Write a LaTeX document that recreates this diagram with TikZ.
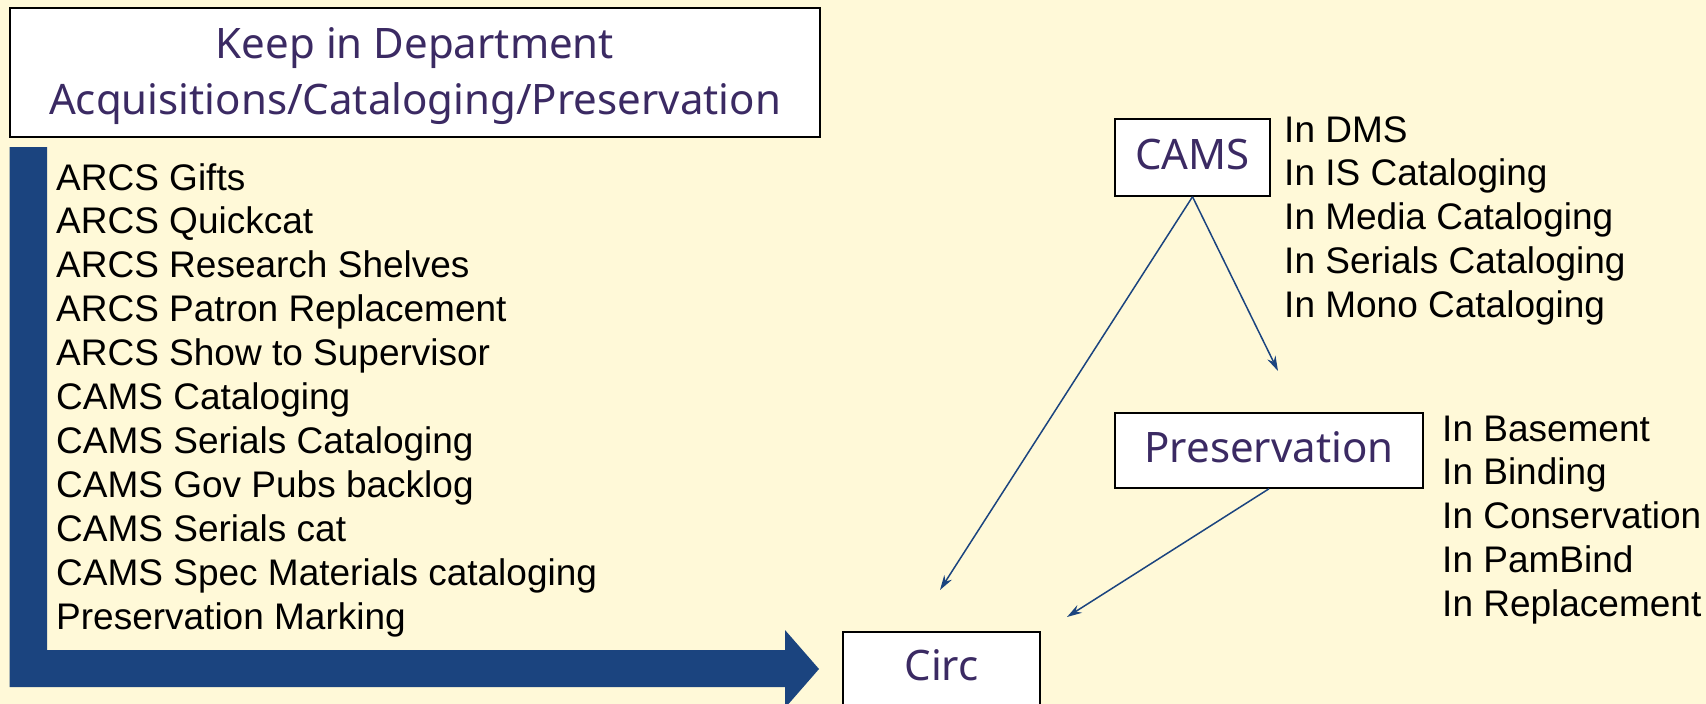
\documentclass[tikz,border=0pt]{standalone}
\usepackage{fontspec}
\setmainfont{Liberation Sans}
\newfontfamily\notosans{Noto Sans}
\usetikzlibrary{arrows.meta}
\definecolor{bg}{HTML}{FFF9D8}
\definecolor{barblue}{HTML}{1B447F}
\definecolor{labpurple}{HTML}{3B2A63}
\begin{document}
\begin{tikzpicture}[x=1pt,y=-1pt,
  box/.style={draw=black,line width=1.5pt,fill=white,inner sep=0pt},
  lab/.style={font=\notosans\fontsize{42}{50}\selectfont,text=labpurple},
  item/.style={font=\fontsize{37}{44}\selectfont,anchor=base west,inner sep=0pt,text=black},
  link/.style={draw=barblue,line width=1.5pt,-{Stealth[length=15pt,width=9pt]}}]
\fill[bg] (0,0) rectangle (1706,704);
\useasboundingbox (0,0) rectangle (1706,704);

% big bent arrow
\fill[barblue] (9.5,147) -- (47,147) -- (47,650) -- (785,650) -- (785,630)
  -- (819,669) -- (785,708) -- (785,687) -- (9.5,687) -- cycle;

% top box
\node[box,minimum width=810pt,minimum height=129pt] (keep) at (415,72.5) {};
\node[lab,anchor=base,inner sep=0pt] (keepA) at (415,58) {Keep in Department};
\node[lab,anchor=base,inner sep=0pt] (keepB) at (415,114) {Acquisitions/Cataloging/Preservation};

% list
\foreach \t [count=\i] in {ARCS Gifts,ARCS Quickcat,ARCS Research Shelves,ARCS Patron Replacement,
  ARCS Show to Supervisor,CAMS Cataloging,CAMS Serials Cataloging,CAMS Gov Pubs backlog,
  CAMS Serials cat,CAMS Spec Materials cataloging,Preservation Marking}
  \node[item] (item\i) at (56,{190+43.95*(\i-1)}) {\t};

% CAMS
\node[box,lab,minimum width=155pt,minimum height=77pt,text height=23pt,text depth=0pt] (cams) at (1192.5,157.5) {CAMS};
\foreach \t [count=\i] in {In DMS,In IS Cataloging,In Media Cataloging,In Serials Cataloging,In Mono Cataloging}
  \node[item] (camsitem\i) at (1284,{142+43.75*(\i-1)}) {\t};

% Preservation
\node[box,lab,minimum width=308pt,minimum height=75pt,text height=23pt,text depth=0pt] (pres) at (1269,450.5) {Preservation};
\foreach \t [count=\i] in {In Basement,In Binding,In Conservation,In PamBind,In Replacement}
  \node[item] (presitem\i) at (1442,{441+43.75*(\i-1)}) {\t};

% Circ
\node[box,lab,minimum width=197pt,minimum height=80pt,text height=16pt,text depth=0pt] (circ) at (941.5,672) {Circ};

% connectors
\coordinate (camsEnd) at (1278,371);
\coordinate (circA) at (940,590);
\coordinate (circB) at (1067,617);
\draw[link] (cams.south) -- (camsEnd);
\draw[link] (cams.south) -- (circA);
\draw[link] (pres.south) -- (circB);
\end{tikzpicture}
\end{document}
